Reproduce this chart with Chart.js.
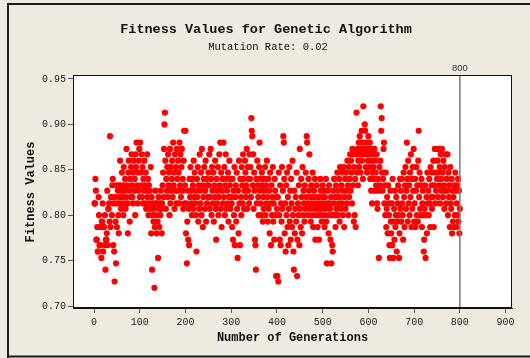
<!DOCTYPE html>
<html>
<head>
<meta charset="utf-8">
<script src="https://cdn.jsdelivr.net/npm/chart.js@4.4.0/dist/chart.umd.min.js"></script>
<style>
  html, body { margin: 0; padding: 0; background: #EEEAE0; }
  #c { display: block; }
</style>
</head>
<body>
<canvas id="c" width="530" height="358"></canvas>
<script>
// Best fitness per generation, one array per block of 100 generations
const fitnessGen001to100 = [
  0.813, 0.813, 0.840, 0.827, 0.773, 0.773, 0.787, 0.760, 0.760, 0.820,
  0.800, 0.767, 0.767, 0.787, 0.787, 0.753, 0.793, 0.793, 0.813, 0.760,
  0.787, 0.787, 0.767, 0.800, 0.740, 0.773, 0.773, 0.780, 0.827, 0.767,
  0.807, 0.807, 0.813, 0.793, 0.887, 0.787, 0.820, 0.820, 0.800, 0.833,
  0.840, 0.767, 0.813, 0.760, 0.727, 0.820, 0.793, 0.747, 0.833, 0.787,
  0.813, 0.827, 0.800, 0.780, 0.820, 0.833, 0.860, 0.813, 0.807, 0.827,
  0.847, 0.820, 0.833, 0.800, 0.853, 0.813, 0.827, 0.840, 0.807, 0.820,
  0.873, 0.833, 0.813, 0.780, 0.847, 0.860, 0.827, 0.793, 0.840, 0.820,
  0.853, 0.867, 0.833, 0.820, 0.813, 0.847, 0.860, 0.827, 0.840, 0.800,
  0.867, 0.853, 0.880, 0.833, 0.813, 0.847, 0.827, 0.860, 0.873, 0.820
];
const fitnessGen101to200 = [
  0.880, 0.847, 0.833, 0.867, 0.820, 0.853, 0.813, 0.840, 0.827, 0.860,
  0.833, 0.813, 0.847, 0.807, 0.827, 0.867, 0.820, 0.840, 0.800, 0.833,
  0.813, 0.827, 0.807, 0.853, 0.780, 0.820, 0.740, 0.800, 0.813, 0.793,
  0.807, 0.720, 0.787, 0.827, 0.813, 0.800, 0.780, 0.813, 0.793, 0.753,
  0.820, 0.807, 0.787, 0.813, 0.800, 0.827, 0.807, 0.780, 0.813, 0.833,
  0.847, 0.820, 0.873, 0.900, 0.913, 0.860, 0.807, 0.840, 0.827, 0.853,
  0.820, 0.867, 0.833, 0.847, 0.800, 0.873, 0.813, 0.853, 0.827, 0.840,
  0.860, 0.820, 0.880, 0.833, 0.847, 0.807, 0.867, 0.827, 0.853, 0.813,
  0.873, 0.840, 0.827, 0.860, 0.847, 0.813, 0.880, 0.833, 0.867, 0.820,
  0.853, 0.873, 0.827, 0.840, 0.807, 0.860, 0.893, 0.813, 0.833, 0.893
];
const fitnessGen201to300 = [
  0.780, 0.813, 0.747, 0.793, 0.827, 0.773, 0.807, 0.767, 0.840, 0.820,
  0.853, 0.827, 0.813, 0.800, 0.840, 0.833, 0.807, 0.860, 0.820, 0.847,
  0.813, 0.827, 0.800, 0.760, 0.840, 0.820, 0.853, 0.793, 0.833, 0.807,
  0.867, 0.827, 0.813, 0.847, 0.800, 0.873, 0.833, 0.787, 0.820, 0.840,
  0.853, 0.807, 0.827, 0.860, 0.793, 0.840, 0.813, 0.833, 0.820, 0.847,
  0.833, 0.867, 0.807, 0.820, 0.873, 0.840, 0.800, 0.853, 0.827, 0.813,
  0.847, 0.793, 0.833, 0.820, 0.860, 0.807, 0.773, 0.840, 0.813, 0.827,
  0.853, 0.800, 0.820, 0.867, 0.833, 0.880, 0.807, 0.847, 0.787, 0.827,
  0.840, 0.813, 0.880, 0.820, 0.853, 0.800, 0.833, 0.867, 0.807, 0.840,
  0.827, 0.813, 0.847, 0.793, 0.820, 0.860, 0.833, 0.807, 0.840, 0.820
];
const fitnessGen301to400 = [
  0.813, 0.787, 0.840, 0.773, 0.827, 0.800, 0.853, 0.767, 0.820, 0.833,
  0.793, 0.847, 0.807, 0.753, 0.827, 0.780, 0.860, 0.813, 0.767, 0.840,
  0.820, 0.800, 0.853, 0.833, 0.813, 0.867, 0.840, 0.807, 0.827, 0.860,
  0.847, 0.820, 0.833, 0.873, 0.807, 0.853, 0.827, 0.840, 0.813, 0.867,
  0.840, 0.853, 0.820, 0.907, 0.893, 0.887, 0.833, 0.867, 0.807, 0.847,
  0.827, 0.773, 0.767, 0.740, 0.840, 0.813, 0.860, 0.833, 0.820, 0.800,
  0.853, 0.880, 0.827, 0.840, 0.813, 0.800, 0.847, 0.833, 0.793, 0.820,
  0.807, 0.840, 0.827, 0.853, 0.800, 0.833, 0.813, 0.860, 0.820, 0.793,
  0.840, 0.807, 0.827, 0.780, 0.847, 0.813, 0.767, 0.833, 0.800, 0.820,
  0.853, 0.793, 0.813, 0.773, 0.840, 0.827, 0.800, 0.733, 0.820, 0.807
];
const fitnessGen401to500 = [
  0.733, 0.820, 0.727, 0.847, 0.800, 0.773, 0.833, 0.767, 0.813, 0.793,
  0.853, 0.807, 0.827, 0.887, 0.880, 0.840, 0.780, 0.813, 0.760, 0.833,
  0.800, 0.847, 0.787, 0.820, 0.767, 0.807, 0.853, 0.793, 0.827, 0.773,
  0.840, 0.813, 0.787, 0.860, 0.800, 0.760, 0.740, 0.827, 0.780, 0.807,
  0.820, 0.793, 0.847, 0.733, 0.773, 0.813, 0.800, 0.833, 0.767, 0.873,
  0.807, 0.787, 0.840, 0.820, 0.780, 0.853, 0.800, 0.827, 0.813, 0.793,
  0.833, 0.807, 0.847, 0.820, 0.887, 0.880, 0.800, 0.813, 0.840, 0.827,
  0.867, 0.807, 0.820, 0.793, 0.833, 0.813, 0.800, 0.847, 0.787, 0.820,
  0.827, 0.807, 0.840, 0.773, 0.813, 0.800, 0.833, 0.820, 0.787, 0.807,
  0.820, 0.773, 0.813, 0.800, 0.840, 0.827, 0.807, 0.793, 0.820, 0.833
];
const fitnessGen501to600 = [
  0.813, 0.800, 0.827, 0.787, 0.820, 0.807, 0.840, 0.793, 0.747, 0.813,
  0.827, 0.800, 0.780, 0.833, 0.813, 0.807, 0.773, 0.820, 0.747, 0.800,
  0.767, 0.760, 0.827, 0.813, 0.840, 0.800, 0.820, 0.787, 0.833, 0.807,
  0.820, 0.847, 0.800, 0.827, 0.813, 0.840, 0.793, 0.853, 0.820, 0.807,
  0.833, 0.813, 0.847, 0.800, 0.827, 0.853, 0.787, 0.820, 0.840, 0.807,
  0.847, 0.827, 0.813, 0.860, 0.833, 0.800, 0.853, 0.820, 0.840, 0.867,
  0.827, 0.860, 0.847, 0.813, 0.873, 0.833, 0.867, 0.793, 0.853, 0.800,
  0.840, 0.787, 0.867, 0.913, 0.847, 0.873, 0.833, 0.860, 0.880, 0.853,
  0.887, 0.867, 0.847, 0.873, 0.893, 0.860, 0.880, 0.840, 0.920, 0.867,
  0.873, 0.900, 0.893, 0.853, 0.880, 0.867, 0.847, 0.873, 0.860, 0.887
];
const fitnessGen601to700 = [
  0.867, 0.853, 0.880, 0.840, 0.873, 0.827, 0.860, 0.813, 0.847, 0.867,
  0.853, 0.840, 0.873, 0.827, 0.860, 0.847, 0.833, 0.867, 0.813, 0.807,
  0.840, 0.827, 0.753, 0.853, 0.833, 0.860, 0.920, 0.893, 0.907, 0.847,
  0.827, 0.840, 0.873, 0.880, 0.813, 0.833, 0.800, 0.847, 0.787, 0.807,
  0.820, 0.780, 0.833, 0.813, 0.800, 0.767, 0.753, 0.827, 0.793, 0.780,
  0.813, 0.767, 0.840, 0.793, 0.753, 0.807, 0.773, 0.827, 0.787, 0.800,
  0.820, 0.760, 0.793, 0.813, 0.833, 0.800, 0.753, 0.780, 0.840, 0.807,
  0.827, 0.793, 0.840, 0.813, 0.800, 0.773, 0.847, 0.820, 0.787, 0.833,
  0.853, 0.807, 0.827, 0.880, 0.840, 0.793, 0.860, 0.813, 0.833, 0.800,
  0.847, 0.820, 0.867, 0.787, 0.840, 0.807, 0.853, 0.827, 0.873, 0.793
];
const fitnessGen701to800 = [
  0.813, 0.840, 0.787, 0.827, 0.853, 0.800, 0.833, 0.793, 0.860, 0.893,
  0.820, 0.847, 0.807, 0.833, 0.800, 0.840, 0.787, 0.813, 0.827, 0.800,
  0.760, 0.773, 0.807, 0.833, 0.753, 0.800, 0.820, 0.780, 0.847, 0.813,
  0.827, 0.800, 0.840, 0.813, 0.787, 0.853, 0.820, 0.833, 0.807, 0.847,
  0.820, 0.860, 0.787, 0.833, 0.873, 0.813, 0.847, 0.827, 0.873, 0.840,
  0.860, 0.820, 0.847, 0.873, 0.833, 0.853, 0.813, 0.867, 0.840, 0.827,
  0.873, 0.847, 0.820, 0.860, 0.833, 0.807, 0.853, 0.827, 0.867, 0.813,
  0.840, 0.827, 0.867, 0.800, 0.847, 0.820, 0.833, 0.787, 0.853, 0.813,
  0.807, 0.840, 0.780, 0.827, 0.793, 0.820, 0.787, 0.833, 0.800, 0.847,
  0.827, 0.787, 0.813, 0.833, 0.800, 0.840, 0.793, 0.827, 0.780, 0.807
];

const xTickValues = [0, 100, 200, 300, 400, 500, 600, 700, 800, 900];
const yTickValues = [0.70, 0.75, 0.80, 0.85, 0.90, 0.95];
const referenceGeneration = 800;

const titleText = 'Fitness Values for Genetic Algorithm';
const subtitleText = 'Mutation Rate: 0.02';
const xAxisTitle = 'Number of Generations';
const yAxisTitle = 'Fitness Values';

// Generation numbers run 1..800, block by block
const blocks = [fitnessGen001to100, fitnessGen101to200, fitnessGen201to300, fitnessGen301to400,
                fitnessGen401to500, fitnessGen501to600, fitnessGen601to700, fitnessGen701to800];
const points = [];
blocks.forEach((block, b) => block.forEach((v, i) => points.push({ x: b * 100 + i + 1, y: v })));

const MONO = '"Liberation Mono", "DejaVu Sans Mono", monospace';
const BG = '#EEEAE0';

const decorations = {
  id: 'decorations',
  beforeDraw(chart) {
    const { ctx, chartArea: a, width, height } = chart;
    ctx.save();
    ctx.fillStyle = BG;
    ctx.fillRect(0, 0, width, height);
    ctx.fillStyle = '#FFFFFF';
    ctx.fillRect(a.left, a.top, a.right - a.left, a.bottom - a.top);
    // outer window frame
    ctx.strokeStyle = '#1a1a1a';
    ctx.lineWidth = 2;
    ctx.beginPath();
    ctx.moveTo(8, height);
    ctx.lineTo(8, 4);
    ctx.lineTo(width, 4);
    ctx.moveTo(8, 356.5);
    ctx.lineTo(width, 356.5);
    ctx.stroke();
    ctx.restore();
  },
  afterDatasetsDraw(chart) {
    const { ctx, chartArea: a, scales } = chart;
    const xr = scales.x.getPixelForValue(referenceGeneration);
    ctx.save();
    // reference line
    ctx.strokeStyle = '#7a7a7a';
    ctx.lineWidth = 1.5;
    ctx.beginPath();
    ctx.moveTo(xr, a.top);
    ctx.lineTo(xr, a.bottom);
    ctx.stroke();
    // plot frame
    ctx.strokeStyle = '#111';
    ctx.lineWidth = 1;
    ctx.strokeRect(a.left + 0.5, a.top + 0.5, a.right - a.left - 1, a.bottom - a.top - 1);
    ctx.restore();
  },
  afterDraw(chart) {
    const { ctx, chartArea: a, scales } = chart;
    const xr = scales.x.getPixelForValue(referenceGeneration);
    ctx.save();
    ctx.fillStyle = '#111';
    ctx.textAlign = 'center';
    ctx.textBaseline = 'middle';
    ctx.font = 'bold 13.5px ' + MONO;
    ctx.fillText(titleText, 266, 30);
    ctx.font = '10.5px ' + MONO;
    ctx.fillText(subtitleText, 268, 47);
    ctx.font = 'bold 12px ' + MONO;
    ctx.fillText(xAxisTitle, (a.left + a.right) / 2, 338);
    ctx.save();
    ctx.translate(31, 192);
    ctx.rotate(-Math.PI / 2);
    ctx.fillText(yAxisTitle, 0, 0);
    ctx.restore();
    ctx.fillStyle = '#333';
    ctx.font = '9.5px "Liberation Sans", Arial, sans-serif';
    ctx.fillText(String(referenceGeneration), xr, 68);
    ctx.restore();
  }
};

const axisCommon = {
  type: 'linear',
  grid: { drawOnChartArea: false, drawTicks: true, tickLength: 5, color: '#555', tickColor: '#555' },
  border: { display: true, color: '#111', width: 1 },
  ticks: { font: { family: MONO, size: 10 }, color: '#222', autoSkip: false, maxRotation: 0 }
};

new Chart(document.getElementById('c'), {
  type: 'scatter',
  data: {
    datasets: [{
      data: points,
      backgroundColor: '#FF0000',
      borderWidth: 0,
      pointRadius: 3.1,
      pointHoverRadius: 3.1
    }]
  },
  options: {
    responsive: false,
    animation: false,
    events: [],
    layout: { padding: { top: 75, right: 18, left: 0, bottom: 0 } },
    plugins: { legend: { display: false }, tooltip: { enabled: false }, title: { display: false } },
    scales: {
      x: Object.assign({}, axisCommon, {
        min: -46, max: 914,
        ticks: Object.assign({}, axisCommon.ticks, { padding: 3 }),
        afterBuildTicks: s => { s.ticks = xTickValues.map(v => ({ value: v })); },
        afterFit: s => { s.height = 50; }
      }),
      y: Object.assign({}, axisCommon, {
        min: 0.6978, max: 0.9544,
        ticks: Object.assign({}, axisCommon.ticks, { padding: 2, callback: v => Number(v).toFixed(2) }),
        afterBuildTicks: s => { s.ticks = yTickValues.map(v => ({ value: v })); },
        afterFit: s => { s.width = 73; }
      })
    }
  },
  plugins: [decorations]
});
</script>
</body>
</html>
